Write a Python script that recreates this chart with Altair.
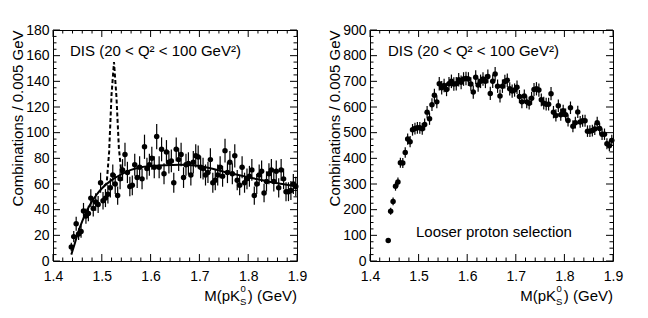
import altair as alt
import pandas as pd
import numpy as np

FONT = "Liberation Sans"

# ---- data ----
bin_start = 1.4375
bin_width = 0.005

left_counts = [11, 19, 29, 21, 23, 39, 35, 37, 49, 41, 46, 44, 61, 47, 49,
               52, 57, 67, 60, 51, 64, 71, 83, 69, 58, 59, 75, 65, 73, 64,
               89, 72, 75, 80, 73, 97, 73, 87, 68, 85, 77, 78, 61, 87, 79,
               83, 65, 75, 76, 67, 77, 82, 81, 73, 72, 67, 69, 79, 61, 63,
               67, 73, 66, 86, 69, 77, 68, 82, 63, 59, 73, 61, 64, 66, 71,
               51, 60, 67, 70, 53, 62, 68, 71, 62, 70, 57, 71, 64, 54, 54,
               55, 60, 58]

right_counts = [80, 194, 232, 291, 308, 383, 382, 423, 475, 465, 511, 516, 519, 519, 515,
                532, 580, 554, 609, 646, 620, 691, 675, 684, 668, 691, 700, 690, 691, 706,
                696, 709, 711, 709, 690, 658, 716, 686, 700, 709, 700, 719, 653, 700, 729,
                681, 643, 681, 699, 704, 671, 662, 666, 677, 641, 620, 643, 620, 615, 634,
                668, 671, 666, 628, 615, 611, 611, 652, 580, 567, 605, 570, 585, 570, 547,
                597, 525, 539, 581, 542, 546, 546, 506, 506, 508, 514, 539, 516, 494, 494,
                457, 449, 470]

fit_x = [1.4375, 1.445, 1.45, 1.46, 1.47, 1.48, 1.49, 1.50, 1.52, 1.54, 1.56, 1.58,
         1.60, 1.63, 1.66, 1.69, 1.72, 1.75, 1.78, 1.81, 1.84, 1.87, 1.90]
fit_y = [5, 14, 20.5, 31, 39.5, 46.5, 52, 56.5, 63, 67.5, 71, 73, 74, 74.7, 75,
         74.5, 72.5, 69.5, 67, 64.5, 62, 60, 58]

peak_x = [1.505, 1.510, 1.515, 1.520, 1.525, 1.530, 1.535, 1.540, 1.545]
peak_y = [58.5, 60.5, 85, 130, 155, 128, 88, 69, 68]

x_major = [1.4, 1.5, 1.6, 1.7, 1.8, 1.9]
left_y_major = [0, 20, 40, 60, 80, 100, 120, 140, 160, 180]
right_y_major = [0, 100, 200, 300, 400, 500, 600, 700, 800, 900]

title_y = "Combinations / 0.005 GeV"
label_dis = "DIS (20 < Q² < 100 GeV²)"
label_loose = "Looser proton selection"

x_minor = [round(1.4 + 0.02 * i, 3) for i in range(26) if i % 5 != 0]
left_y_minor = [v for v in range(0, 181, 5) if v % 20 != 0]
right_y_minor = [v for v in range(0, 901, 25) if v % 100 != 0]

H = 231
MAJ = 7
MIN = 3.5


def panel(counts, ymax, ymajor, yminor, W, texts, extra=None):
    centers = [bin_start + bin_width * i for i in range(len(counts))]
    err = np.sqrt(np.array(counts, dtype=float))
    df = pd.DataFrame({"m": centers, "n": counts,
                       "lo": np.array(counts) - err, "hi": np.array(counts) + err})
    xs = alt.Scale(domain=[1.4, 1.9], nice=False, zero=False)
    ys = alt.Scale(domain=[0, ymax], nice=False, zero=False)
    xaxis = alt.Axis(values=x_major, format=".1f", labelFont=FONT, labelFontSize=14,
                     labelPadding=8, labelFlush=False, ticks=False, tickSize=0,
                     domain=False, grid=False, title=None, labelColor="black")
    yaxis = alt.Axis(values=ymajor, labelFont=FONT, labelFontSize=14, labelPadding=4,
                     ticks=False, tickSize=0, domain=False, grid=False,
                     title=title_y, titleFont=FONT, titleFontSize=15,
                     titleFontWeight="normal", titleAnchor="end", titlePadding=0,
                     labelColor="black", titleColor="black")
    X = lambda f: alt.X(f, scale=xs, axis=xaxis)
    Y = lambda f: alt.Y(f, scale=ys, axis=yaxis)
    base = alt.Chart(df)
    layers = []
    layers.append(base.mark_rule(color="black", strokeWidth=1.2).encode(
        x=X("m:Q"), y=Y("lo:Q"), y2="hi:Q"))
    layers.append(base.mark_circle(size=30, color="black", opacity=1).encode(
        x=X("m:Q"), y=Y("n:Q")))
    if extra:
        for (ex, ey, dash) in extra:
            d = pd.DataFrame({"x": ex, "y": ey})
            if dash:
                mk = alt.Chart(d).mark_line(color="black", strokeWidth=2,
                                            strokeDash=[4, 2.5])
            else:
                mk = alt.Chart(d).mark_line(color="black", strokeWidth=2,
                                            interpolate="monotone")
            layers.append(mk.encode(x=X("x:Q"), y=Y("y:Q")))
    # inward ticks on all four sides
    for vals, ln in ((ymajor, MAJ), (yminor, MIN)):
        d = alt.Chart(pd.DataFrame({"v": vals}))
        layers.append(d.mark_rule(color="black", strokeWidth=1).encode(
            y=Y("v:Q"), x=alt.value(0), x2=alt.value(ln)))
        layers.append(d.mark_rule(color="black", strokeWidth=1).encode(
            y=Y("v:Q"), x=alt.value(W), x2=alt.value(W - ln)))
    for vals, ln in ((x_major, MAJ), (x_minor, MIN)):
        d = alt.Chart(pd.DataFrame({"v": vals}))
        layers.append(d.mark_rule(color="black", strokeWidth=1).encode(
            x=X("v:Q"), y=alt.value(H), y2=alt.value(H - ln)))
        layers.append(d.mark_rule(color="black", strokeWidth=1).encode(
            x=X("v:Q"), y=alt.value(0), y2=alt.value(ln)))
    # annotation texts
    for (t, tx, ty) in texts:
        layers.append(alt.Chart(pd.DataFrame({"t": [t]})).mark_text(
            align="left", baseline="alphabetic", font=FONT, fontSize=15, color="black"
        ).encode(text="t:N", x=alt.value(tx), y=alt.value(ty)))
    # x-axis title M(pK_S^0) (GeV), right aligned at the plot edge
    yb = H + 40
    tparts = [("M(pK", W - 57, yb, 15, "right"),
              ("0", W - 56.5, yb - 9, 9.5, "left"),
              ("S", W - 57, yb + 4, 9.5, "left"),
              (") (GeV)", W, yb, 15, "right")]
    for (t, tx, ty, fs, al) in tparts:
        layers.append(alt.Chart(pd.DataFrame({"t": [t]})).mark_text(
            align=al, baseline="alphabetic", font=FONT, fontSize=fs, color="black"
        ).encode(text="t:N", x=alt.value(tx), y=alt.value(ty)))
    return alt.layer(*layers).properties(width=W, height=H)


WL = 244
WR = 243
left = panel(left_counts, 180, left_y_major, left_y_minor, WL,
             [(label_dis, 17, 26)],
             extra=[(fit_x, fit_y, False), (peak_x, peak_y, True)])
right = panel(right_counts, 900, right_y_major, right_y_minor, WR,
              [(label_dis, 18, 26), (label_loose, 46, H - 24)])

chart = alt.hconcat(left, right, spacing=19).properties(
    padding={"left": 2, "top": 14, "right": 5, "bottom": 0},
    background="white"
).configure_view(stroke="black", strokeWidth=1)

chart.save("out.html", embed_options={"renderer": "svg", "actions": False})
